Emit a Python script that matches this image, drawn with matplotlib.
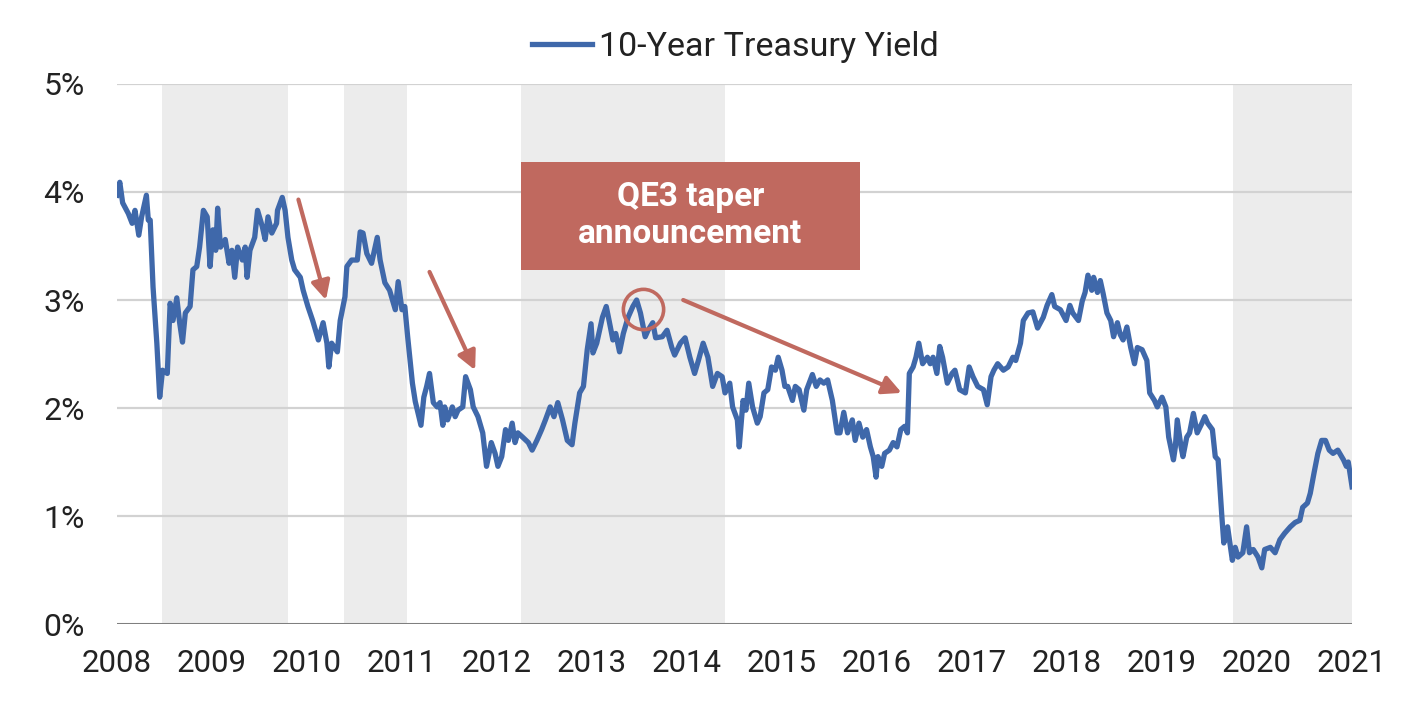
import matplotlib
matplotlib.use('Agg')
import matplotlib.pyplot as plt
from matplotlib.patches import Rectangle

plt.rcParams['font.family'] = ['Roboto', 'DejaVu Sans']

# weekly-ish readings of the 10-year yield (decimal year, percent)
years = [2008.00, 2008.03, 2008.06, 2008.12, 2008.16, 2008.19, 2008.23, 2008.26, 2008.31, 2008.33,
         2008.35, 2008.38, 2008.42, 2008.45, 2008.48, 2008.53, 2008.56, 2008.59, 2008.63, 2008.66,
         2008.69, 2008.72, 2008.77, 2008.80, 2008.84, 2008.87, 2008.91, 2008.95, 2008.98, 2009.01,
         2009.04, 2009.06, 2009.09, 2009.14, 2009.18, 2009.21, 2009.24, 2009.27, 2009.32, 2009.35,
         2009.37, 2009.40, 2009.45, 2009.48, 2009.53, 2009.56, 2009.59, 2009.63, 2009.68, 2009.69,
         2009.74, 2009.77, 2009.80, 2009.84, 2009.87, 2009.93, 2009.96, 2010.01, 2010.06, 2010.12,
         2010.17, 2010.21, 2010.23, 2010.26, 2010.32, 2010.35, 2010.40, 2010.42, 2010.47, 2010.53,
         2010.56, 2010.59, 2010.63, 2010.68, 2010.74, 2010.77, 2010.82, 2010.87, 2010.93, 2010.96,
         2011.00, 2011.03, 2011.06, 2011.11, 2011.14, 2011.17, 2011.20, 2011.23, 2011.26, 2011.29,
         2011.33, 2011.37, 2011.40, 2011.43, 2011.45, 2011.48, 2011.53, 2011.56, 2011.59, 2011.64,
         2011.67, 2011.72, 2011.75, 2011.80, 2011.85, 2011.89, 2011.94, 2011.98, 2012.01, 2012.05,
         2012.09, 2012.12, 2012.16, 2012.19, 2012.22, 2012.27, 2012.33, 2012.37, 2012.42, 2012.47,
         2012.51, 2012.56, 2012.60, 2012.64, 2012.69, 2012.74, 2012.79, 2012.82, 2012.87, 2012.91,
         2012.95, 2012.99, 2013.01, 2013.05, 2013.11, 2013.15, 2013.18, 2013.22, 2013.25, 2013.29,
         2013.33, 2013.38, 2013.43, 2013.47, 2013.51, 2013.56, 2013.59, 2013.64, 2013.67, 2013.74,
         2013.79, 2013.84, 2013.87, 2013.93, 2013.98, 2014.03, 2014.08, 2014.12, 2014.17, 2014.22,
         2014.27, 2014.32, 2014.37, 2014.40, 2014.45, 2014.48, 2014.53, 2014.55, 2014.59, 2014.62,
         2014.65, 2014.69, 2014.74, 2014.77, 2014.81, 2014.85, 2014.89, 2014.93, 2014.96, 2015.00,
         2015.03, 2015.06, 2015.11, 2015.14, 2015.18, 2015.23, 2015.26, 2015.32, 2015.36, 2015.40,
         2015.44, 2015.48, 2015.53, 2015.58, 2015.61, 2015.65, 2015.69, 2015.74, 2015.77, 2015.81,
         2015.85, 2015.89, 2015.93, 2015.96, 2015.99, 2016.01, 2016.05, 2016.08, 2016.13, 2016.17,
         2016.21, 2016.25, 2016.29, 2016.32, 2016.34, 2016.38, 2016.41, 2016.44, 2016.48, 2016.53,
         2016.56, 2016.59, 2016.63, 2016.66, 2016.69, 2016.74, 2016.79, 2016.82, 2016.87, 2016.93,
         2016.97, 2017.01, 2017.06, 2017.12, 2017.16, 2017.20, 2017.23, 2017.27, 2017.33, 2017.38,
         2017.43, 2017.46, 2017.51, 2017.54, 2017.59, 2017.64, 2017.69, 2017.75, 2017.79, 2017.84,
         2017.87, 2017.93, 2017.99, 2018.03, 2018.06, 2018.12, 2018.16, 2018.19, 2018.22, 2018.26,
         2018.28, 2018.32, 2018.35, 2018.38, 2018.42, 2018.46, 2018.49, 2018.53, 2018.56, 2018.59,
         2018.63, 2018.67, 2018.71, 2018.74, 2018.79, 2018.84, 2018.87, 2018.92, 2018.95, 2019.00,
         2019.04, 2019.07, 2019.12, 2019.14, 2019.16, 2019.20, 2019.22, 2019.26, 2019.29, 2019.33,
         2019.37, 2019.42, 2019.45, 2019.48, 2019.53, 2019.56, 2019.59, 2019.63, 2019.65, 2019.69,
         2019.74, 2019.77, 2019.80, 2019.85, 2019.89, 2019.92, 2019.96, 2020.01, 2020.05, 2020.08,
         2020.14, 2020.19, 2020.24, 2020.29, 2020.35, 2020.40, 2020.45, 2020.48, 2020.53, 2020.56,
         2020.60, 2020.64, 2020.68, 2020.72, 2020.76, 2020.80, 2020.85, 2020.91, 2020.94, 2020.96,
         2021.00]
yields = [3.97, 4.09, 3.90, 3.80, 3.71, 3.83, 3.60, 3.77, 3.97, 3.74,
          3.74, 3.12, 2.60, 2.10, 2.35, 2.32, 2.97, 2.81, 3.02, 2.79,
          2.61, 2.88, 2.94, 3.28, 3.31, 3.49, 3.83, 3.77, 3.31, 3.65,
          3.46, 3.85, 3.49, 3.56, 3.34, 3.46, 3.21, 3.49, 3.37, 3.49,
          3.21, 3.46, 3.58, 3.83, 3.68, 3.56, 3.77, 3.62, 3.71, 3.83,
          3.95, 3.83, 3.58, 3.37, 3.28, 3.21, 3.09, 2.94, 2.81, 2.63,
          2.79, 2.60, 2.38, 2.60, 2.52, 2.81, 3.03, 3.31, 3.37, 3.37,
          3.63, 3.62, 3.43, 3.34, 3.58, 3.37, 3.16, 3.09, 2.91, 3.17,
          2.91, 2.94, 2.66, 2.23, 2.06, 1.95, 1.84, 2.10, 2.20, 2.32,
          2.05, 2.01, 2.05, 1.84, 2.01, 1.89, 2.01, 1.92, 1.98, 2.01,
          2.29, 2.17, 2.01, 1.92, 1.77, 1.46, 1.68, 1.58, 1.46, 1.55,
          1.80, 1.70, 1.86, 1.68, 1.77, 1.73, 1.68, 1.61, 1.70, 1.80,
          1.89, 2.01, 1.92, 2.05, 1.89, 1.70, 1.66, 1.86, 2.14, 2.20,
          2.54, 2.78, 2.51, 2.60, 2.84, 2.94, 2.81, 2.63, 2.69, 2.52,
          2.69, 2.84, 2.94, 3.00, 2.88, 2.66, 2.72, 2.79, 2.65, 2.66,
          2.72, 2.56, 2.49, 2.60, 2.65, 2.47, 2.32, 2.44, 2.60, 2.47,
          2.20, 2.32, 2.29, 2.14, 2.23, 2.01, 1.89, 1.64, 2.07, 1.98,
          2.23, 2.01, 1.86, 1.92, 2.14, 2.17, 2.38, 2.35, 2.47, 2.35,
          2.20, 2.20, 2.07, 2.20, 2.17, 1.98, 2.17, 2.31, 2.20, 2.26,
          2.23, 2.26, 2.07, 1.77, 1.77, 1.96, 1.77, 1.89, 1.70, 1.86,
          1.73, 1.80, 1.64, 1.55, 1.36, 1.55, 1.46, 1.58, 1.61, 1.68,
          1.64, 1.80, 1.83, 1.77, 2.32, 2.38, 2.47, 2.60, 2.41, 2.47,
          2.41, 2.47, 2.32, 2.57, 2.47, 2.23, 2.32, 2.35, 2.17, 2.14,
          2.38, 2.29, 2.20, 2.17, 2.03, 2.29, 2.35, 2.41, 2.35, 2.38,
          2.47, 2.44, 2.60, 2.81, 2.88, 2.89, 2.74, 2.84, 2.95, 3.05,
          2.94, 2.91, 2.81, 2.95, 2.88, 2.81, 2.99, 3.07, 3.23, 3.09,
          3.21, 3.07, 3.18, 3.06, 2.88, 2.81, 2.66, 2.79, 2.68, 2.63,
          2.75, 2.56, 2.41, 2.56, 2.54, 2.44, 2.14, 2.07, 2.01, 2.10,
          2.01, 1.73, 1.52, 1.64, 1.89, 1.64, 1.55, 1.73, 1.77, 1.95,
          1.77, 1.86, 1.92, 1.86, 1.80, 1.55, 1.52, 0.99, 0.75, 0.90,
          0.59, 0.71, 0.62, 0.66, 0.90, 0.66, 0.69, 0.62, 0.52, 0.69,
          0.71, 0.66, 0.78, 0.84, 0.90, 0.94, 0.96, 1.08, 1.12, 1.21,
          1.40, 1.58, 1.70, 1.70, 1.61, 1.58, 1.61, 1.52, 1.46, 1.50,
          1.27]

# shaded QE periods (start, end)
qe_periods = [(2008.47, 2009.80), (2010.39, 2011.05), (2012.25, 2014.40), (2019.75, 2021.0)]

year_ticks = list(range(2008, 2022))
pct_ticks = [0, 1, 2, 3, 4, 5]

# annotation arrows: (tail, head)
arrows = [((2009.91, 3.93), (2010.20, 3.00)),
          ((2011.29, 3.26), (2011.77, 2.35)),
          ((2013.96, 3.00), (2016.26, 2.14))]
taper_point = (2013.54, 2.92)
box_span = (2012.25, 2015.82, 3.28, 4.28)

line_col = '#3f68aa'
red = '#c0695f'

fig = plt.figure(figsize=(14.14, 7.04), dpi=100)
ax = fig.add_axes([0.0827, 0.1136, 0.8735, 0.7671])

for a, b in qe_periods:
    ax.axvspan(a, b, color='#ececec', lw=0, zorder=0)

for t in pct_ticks[1:]:
    ax.axhline(t, color='#d2d2d2', lw=1.6, zorder=1)
ax.axhline(0, color='#7f7f7f', lw=2.2, zorder=1)

ax.plot(years, yields, color=line_col, lw=3.8, zorder=3, solid_joinstyle='round',
        label='10-Year Treasury Yield')

for tail, head in arrows:
    ax.annotate('', xy=head, xytext=tail,
                arrowprops=dict(arrowstyle='-|>', color=red, lw=3, mutation_scale=28,
                                shrinkA=0, shrinkB=0), zorder=4)

ax.plot(*taper_point, 'o', ms=29, mfc='none', mec=red, mew=2.6, zorder=4)

x0, x1, y0, y1 = box_span
ax.add_patch(Rectangle((x0, y0), x1 - x0, y1 - y0, color=red, lw=0, zorder=5))
ax.text((x0 + x1) / 2, (y0 + y1) / 2, 'QE3 taper\nannouncement', color='white',
        fontsize=24, fontweight='bold', ha='center', va='center', linespacing=1.2, zorder=6)

ax.set_xlim(2008, 2021)
ax.set_ylim(0, 5)
ax.set_xticks(year_ticks)
ax.set_xticklabels([str(y) for y in year_ticks])
ax.set_yticks(pct_ticks)
ax.set_yticklabels(['%d%%' % p for p in pct_ticks])
ax.tick_params(axis='both', length=0, colors='#222222')
ax.tick_params(axis='x', pad=18, labelsize=22.5)
ax.tick_params(axis='y', pad=23, labelsize=23)
for s in ax.spines.values():
    s.set_visible(False)

fig.legend(loc='center', bbox_to_anchor=(0.52, 0.933), frameon=False, fontsize=24.5,
           handlelength=1.75, handletextpad=0.2, labelcolor='#222222')

fig.savefig('out.png', dpi=100)
